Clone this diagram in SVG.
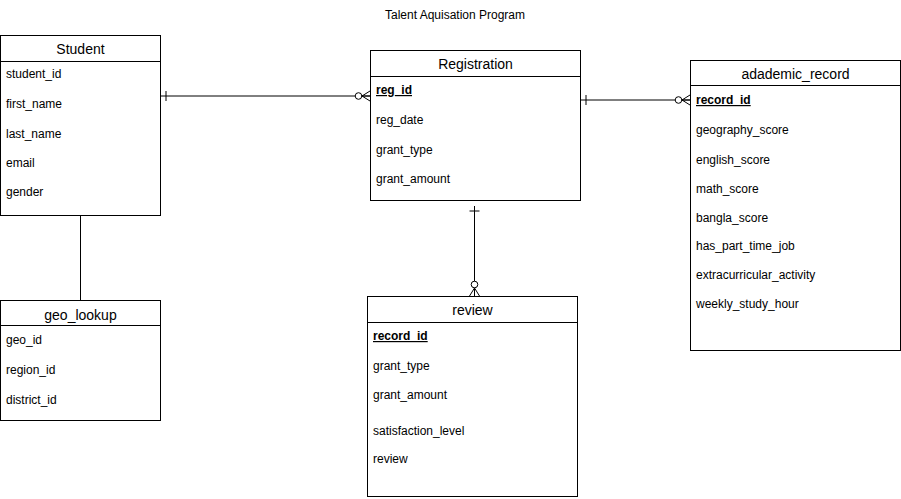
<svg xmlns="http://www.w3.org/2000/svg" width="901" height="499" viewBox="0 0 901 499">
<style>
.box{fill:#fff;stroke:#000;stroke-width:1}
.div{stroke:#000;stroke-width:1}
.hd{font-family:"Liberation Sans",Arial,sans-serif;font-size:14px;fill:#000;text-anchor:middle}
.fd{font-family:"Liberation Sans",Arial,sans-serif;font-size:12px;fill:#000}
.pk{font-weight:bold;text-decoration:underline}
.title{font-family:"Liberation Sans",Arial,sans-serif;font-size:12px;fill:#000;text-anchor:middle}
.conn{fill:none;stroke:#000;stroke-width:1}
</style>
<defs>
<marker id="one" markerUnits="userSpaceOnUse" viewBox="-20 -10 30 20" refX="0" refY="0" markerWidth="30" markerHeight="20" orient="auto" overflow="visible">
<path d="M5,-5 L5,5" stroke="#000" stroke-width="1" fill="none"/>
</marker>
<marker id="zeroMany" markerUnits="userSpaceOnUse" viewBox="-20 -10 30 20" refX="0" refY="0" markerWidth="30" markerHeight="20" orient="auto" overflow="visible">
<path d="M0,-5 L-8,0 L0,5 M-8,0 L0,0" stroke="#000" stroke-width="1" fill="none"/>
<circle cx="-11.5" cy="0" r="3.3" fill="#fff" stroke="#000" stroke-width="1"/>
</marker>
</defs>
<rect width="901" height="499" fill="#fff"/>
<text class="title" x="455" y="19">Talent Aquisation Program</text>

<g id="connectors">
<path class="conn" d="M161,96 L370,96" marker-start="url(#one)" marker-end="url(#zeroMany)"/>
<path class="conn" d="M581,100 L690,100" marker-start="url(#one)" marker-end="url(#zeroMany)"/>
<path class="conn" d="M474.5,206 L474.5,296" marker-start="url(#one)" marker-end="url(#zeroMany)"/>
<path class="conn" d="M80.5,215 L80.5,300"/>
</g>

<g id="student">
<rect class="box" x="0.5" y="35.5" width="160" height="180"/>
<line class="div" x1="0.5" y1="61.5" x2="160.5" y2="61.5"/>
<text class="hd" x="80.5" y="54">Student</text>
<text class="fd" x="6" y="78">student_id</text>
<text class="fd" x="6" y="108">first_name</text>
<text class="fd" x="6" y="138">last_name</text>
<text class="fd" x="6" y="167">email</text>
<text class="fd" x="6" y="196">gender</text>
</g>

<g id="registration">
<rect class="box" x="370.5" y="50.5" width="210" height="150"/>
<line class="div" x1="370.5" y1="76.5" x2="580.5" y2="76.5"/>
<text class="hd" x="475.5" y="69">Registration</text>
<text class="fd pk" x="376" y="94">reg_id</text>
<text class="fd" x="376" y="124">reg_date</text>
<text class="fd" x="376" y="154">grant_type</text>
<text class="fd" x="376" y="183">grant_amount</text>
</g>

<g id="academic_record">
<rect class="box" x="690.5" y="60.5" width="210" height="290"/>
<line class="div" x1="690.5" y1="85.5" x2="900.5" y2="85.5"/>
<text class="hd" x="795.5" y="79">adademic_record</text>
<text class="fd pk" x="696" y="104">record_id</text>
<text class="fd" x="696" y="134">geography_score</text>
<text class="fd" x="696" y="164">english_score</text>
<text class="fd" x="696" y="193">math_score</text>
<text class="fd" x="696" y="222">bangla_score</text>
<text class="fd" x="696" y="250">has_part_time_job</text>
<text class="fd" x="696" y="279">extracurricular_activity</text>
<text class="fd" x="696" y="308">weekly_study_hour</text>
</g>

<g id="geo_lookup">
<rect class="box" x="0.5" y="300.5" width="160" height="120"/>
<line class="div" x1="0.5" y1="325.5" x2="160.5" y2="325.5"/>
<text class="hd" x="80.5" y="320">geo_lookup</text>
<text class="fd" x="6" y="344">geo_id</text>
<text class="fd" x="6" y="374">region_id</text>
<text class="fd" x="6" y="404">district_id</text>
</g>

<g id="review">
<rect class="box" x="367.5" y="296.5" width="210" height="200"/>
<line class="div" x1="367.5" y1="322.5" x2="577.5" y2="322.5"/>
<text class="hd" x="472.5" y="315">review</text>
<text class="fd pk" x="373" y="340">record_id</text>
<text class="fd" x="373" y="370">grant_type</text>
<text class="fd" x="373" y="399">grant_amount</text>
<text class="fd" x="373" y="435">satisfaction_level</text>
<text class="fd" x="373" y="463">review</text>
</g>
</svg>
